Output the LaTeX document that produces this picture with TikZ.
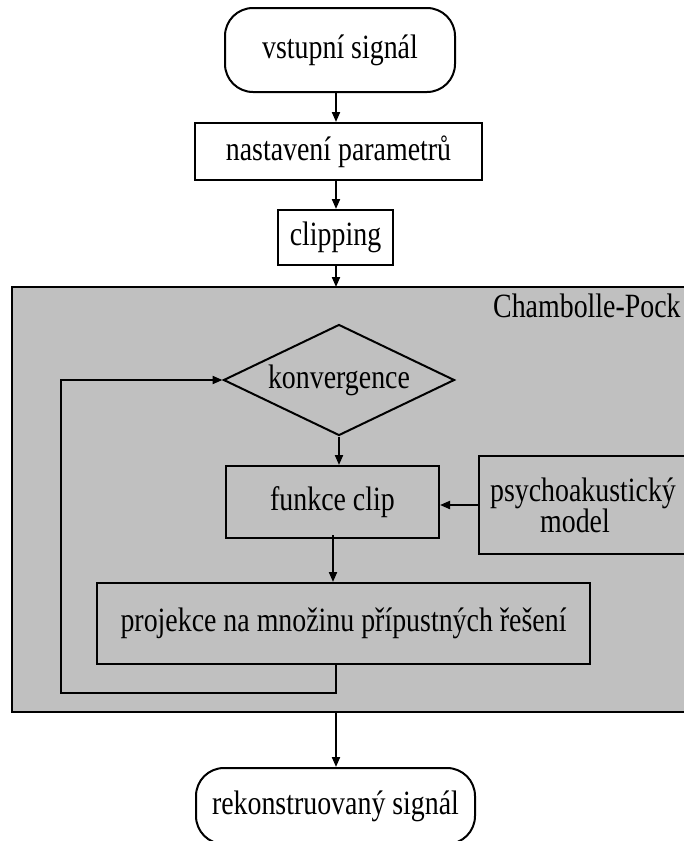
\documentclass[tikz,border=0pt]{standalone}
\usepackage{fontspec}
\setmainfont{Liberation Serif}[FakeStretch=0.82]
\usetikzlibrary{shapes.geometric,arrows.meta}
\definecolor{regiongray}{RGB}{192,192,192}
\begin{document}
\begin{tikzpicture}[x=1pt,y=-1pt,
  every node/.style={font=\fontsize{34}{31}\selectfont, inner sep=0pt},
  box/.style={draw, line width=2pt, rectangle},
  term/.style={draw, line width=2pt, rounded corners=28pt},
  decide/.style={draw, line width=2pt, diamond, aspect=2.08},
  conn/.style={line width=2pt, -{Triangle[length=10pt,width=8pt]}}
]
\useasboundingbox (0,0) rectangle (683,841);
% region
\fill[regiongray] (12,287) rectangle (700,712);
\draw[line width=2pt] (700,287) -- (12,287) -- (12,712) -- (700,712);
\coordinate (rtop) at (336,287);
\coordinate (rbot) at (336,712);
\node[anchor=base west] (cp) at (493,317) {Chambolle-Pock};

\node[term, minimum width=230pt, minimum height=84pt] (start) at (340,50) {vstupní signál};
\node[box, minimum width=287pt, minimum height=57pt] (param) at (338.5,151.5) {nastavení parametrů};
\node[box, minimum width=115pt, minimum height=55pt] (clipping) at (335.5,237.5) {clipping};

\node[decide, minimum width=231pt, minimum height=111pt] (conv) at (339,380) {konvergence};
\node[box, minimum width=213pt, minimum height=72pt] (fclip) at (332.5,502) {funkce clip};
\node[box, minimum width=208pt, minimum height=98pt, align=center] (psy) at (583,505) {psychoakustický\\model\hspace*{16pt}};
\node[box, minimum width=493pt, minimum height=81pt] (proj) at (343.5,623.5) {projekce na množinu přípustných řešení};

\node[term, minimum width=279pt, minimum height=76pt] (end) at (335.5,806) {rekonstruovaný signál};

\draw[conn] (start.south -| 336,0) -- (param.north -| 336,0);
\draw[conn] (param.south -| 336,0) -- (clipping.north -| 336,0);
\draw[conn] (clipping.south -| 336,0) -- (rtop);
\draw[conn] (conv.south) -- (fclip.north -| conv.south);
\draw[conn] (psy.west) -- (fclip.east |- psy.west);
\draw[conn] ([yshift=4pt]fclip.south -| 333,0) -- (proj.north -| 333,0);
\draw[conn] (proj.south -| 336,0) -- (336,693) -- (61,693) -- (61,0 |- conv.west) -- (conv.west);
\draw[conn] (rbot) -- (end.north -| 336,0);
\end{tikzpicture}
\end{document}
